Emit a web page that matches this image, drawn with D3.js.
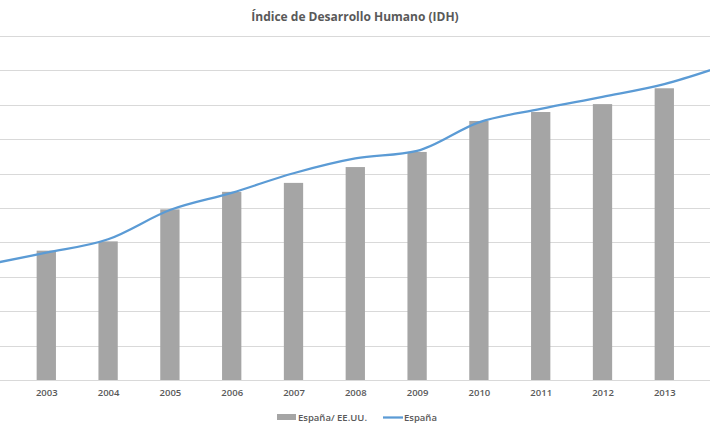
<!DOCTYPE html>
<html>
<head>
<meta charset="utf-8">
<script src="https://cdn.jsdelivr.net/npm/d3@7"></script>
<style>
  html, body { margin: 0; padding: 0; background: #fff; }
  svg { display: block; }
  text { font-family: "Open Sans", "Liberation Sans", sans-serif; }
</style>
</head>
<body>
<div id="chart"></div>
<script>
// ---- Data (in gridline units) ----
const lineYears   = [2002, 2003, 2004, 2005, 2006, 2007, 2008, 2009, 2010, 2011, 2012, 2013, 2014];
const espana      = [3.34, 3.70, 4.09, 4.94, 5.44, 6.01, 6.44, 6.66, 7.49, 7.88, 8.23, 8.60, 9.16];
const barYears    = [2003, 2004, 2005, 2006, 2007, 2008, 2009, 2010, 2011, 2012, 2013];
const espanaEEUU  = [3.76, 4.03, 4.96, 5.47, 5.73, 6.19, 6.63, 7.53, 7.79, 8.02, 8.48];
const yTicks      = [0, 1, 2, 3, 4, 5, 6, 7, 8, 9, 10];
const title       = "Índice de Desarrollo Humano (IDH)";
const legendNames = ["España/ EE.UU.", "España"];

const W = 710, H = 434;
const svg = d3.select("#chart").append("svg").attr("width", W).attr("height", H);

// plot area is cropped on both sides in the reference
const x = d3.scalePoint().domain(lineYears).range([-15.5, 726.1]);
const y = d3.scaleLinear().domain([0, 10]).range([380, 36]);
const barW = 19.3;

// gridlines
svg.append("g").selectAll("line").data(yTicks).join("line")
  .attr("x1", 0).attr("x2", W)
  .attr("y1", d => Math.round(y(d)) + 0.5).attr("y2", d => Math.round(y(d)) + 0.5)
  .attr("stroke", "#d9d9d9").attr("stroke-width", 1);

// bars
svg.append("g").selectAll("rect").data(barYears).join("rect")
  .attr("x", d => x(d) - barW / 2)
  .attr("width", barW)
  .attr("y", (d, i) => y(espanaEEUU[i]))
  .attr("height", (d, i) => y(0) - y(espanaEEUU[i]))
  .attr("fill", "#a5a5a5");

// line
const line = d3.line().x(d => x(d[0])).y(d => y(d[1])).curve(d3.curveMonotoneX);
svg.append("path")
  .datum(lineYears.map((yr, i) => [yr, espana[i]]))
  .attr("d", line)
  .attr("fill", "none")
  .attr("stroke", "#5b9bd5")
  .attr("stroke-width", 2.25)
  .attr("stroke-linejoin", "round");

// x axis labels
const xAxis = d3.axisBottom(x).tickValues(barYears).tickSize(0).tickPadding(9);
const gx = svg.append("g").attr("transform", "translate(0,380)").call(xAxis);
gx.select(".domain").remove();
gx.selectAll("text")
  .attr("fill", "#595959")
  .style("font-size", "9.5px")
  .style("font-weight", "600")
  .style("font-family", "'Open Sans', sans-serif");

// title
svg.append("text")
  .attr("x", 355).attr("y", 21)
  .attr("text-anchor", "middle")
  .attr("fill", "#595959")
  .style("font-size", "12px")
  .style("font-weight", "700")
  .text(title);

// legend
const lg = svg.append("g").style("font-size", "9.5px").style("font-weight", "600").attr("fill", "#595959");
lg.append("rect").attr("x", 277).attr("y", 414).attr("width", 19).attr("height", 6).attr("fill", "#a5a5a5");
lg.append("text").attr("x", 298).attr("y", 421).text(legendNames[0]);
lg.append("line").attr("x1", 383).attr("x2", 403).attr("y1", 417.5).attr("y2", 417.5)
  .attr("stroke", "#5b9bd5").attr("stroke-width", 2.25);
lg.append("text").attr("x", 404).attr("y", 421).text(legendNames[1]);
</script>
</body>
</html>
